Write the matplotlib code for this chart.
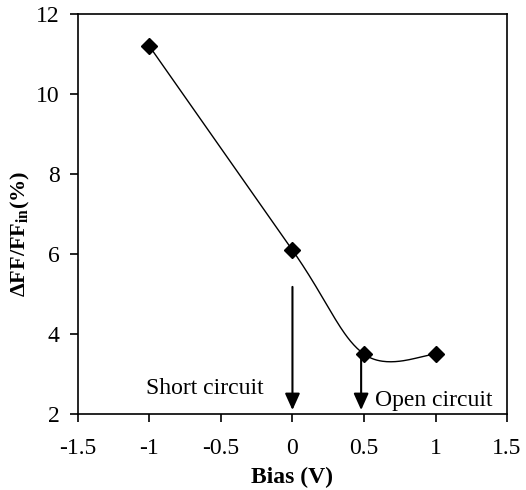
import numpy as np
import matplotlib
matplotlib.use("Agg")
import matplotlib.pyplot as plt

bias = [-1.0, 0.0, 0.5, 1.0]
dff = [11.2, 6.1, 3.5, 3.5]
x_ticks = [-1.5, -1, -0.5, 0, 0.5, 1, 1.5]
x_tick_labels = ["-1.5", "-1", "-0.5", "0", "0.5", "1", "1.5"]
y_ticks = [2, 4, 6, 8, 10, 12]


def smooth_curve(x, y, n=60):
    # Bezier smoothing through the points (spreadsheet-style smoothed line)
    x = np.asarray(x, float)
    y = np.asarray(y, float)
    pts = np.column_stack([x, y])
    out = []
    for i in range(len(pts) - 1):
        p0 = pts[i - 1] if i > 0 else pts[i]
        p1 = pts[i]
        p2 = pts[i + 1]
        p3 = pts[i + 2] if i + 2 < len(pts) else pts[i + 1]
        c1 = p1 + (p2 - p0) / 6.0
        c2 = p2 - (p3 - p1) / 6.0
        t = np.linspace(0, 1, n)[:, None]
        seg = ((1 - t) ** 3) * p1 + 3 * ((1 - t) ** 2) * t * c1 + 3 * (1 - t) * t ** 2 * c2 + t ** 3 * p2
        out.append(seg if i == 0 else seg[1:])
    seg = np.vstack(out)
    return seg[:, 0], seg[:, 1]


plt.rcParams["font.family"] = ["Liberation Serif", "DejaVu Serif"]
plt.rcParams["mathtext.fontset"] = "custom"
plt.rcParams["mathtext.rm"] = "Liberation Serif"
plt.rcParams["mathtext.bf"] = "Liberation Serif:bold"

fig = plt.figure(figsize=(5.26, 4.9), dpi=100)
ax = fig.add_axes([0.148, 0.155, 0.816, 0.816])

sx, sy = smooth_curve(bias, dff)
ax.plot(sx, sy, color="black", lw=1.0)
ax.plot(bias, dff, linestyle="none", marker="D", color="black", markersize=8)

arrow_kw = dict(arrowstyle="-|>,head_length=1.0,head_width=0.45", color="black", lw=1.5,
                shrinkA=0, shrinkB=0)
ax.annotate("", xy=(0.0, 2.1), xytext=(0.0, 5.18), arrowprops=arrow_kw)
ax.annotate("", xy=(0.48, 2.1), xytext=(0.48, 3.48), arrowprops=arrow_kw)

ax.text(-0.615, 2.65, "Short circuit", fontsize=17, ha="center", va="center")
ax.text(0.58, 2.35, "Open circuit", fontsize=17, ha="left", va="center")

ax.set_xlim(-1.5, 1.5)
ax.set_ylim(2, 12)
ax.set_xticks(x_ticks)
ax.set_xticklabels(x_tick_labels)
ax.set_yticks(y_ticks)
ax.tick_params(labelsize=17, direction="out", length=6, width=1.2)
ax.tick_params(axis="x", pad=11)
ax.tick_params(axis="y", pad=7)
for s in ax.spines.values():
    s.set_linewidth(1.2)

ax.set_xlabel("Bias (V)", fontsize=17, fontweight="bold", labelpad=6)
ax.set_ylabel(r"$\mathbf{\Delta FF/FF_{in}(\%)}$", fontsize=16)
ax.yaxis.set_label_coords(-0.107, 0.45)

fig.savefig("out.png", dpi=100)
